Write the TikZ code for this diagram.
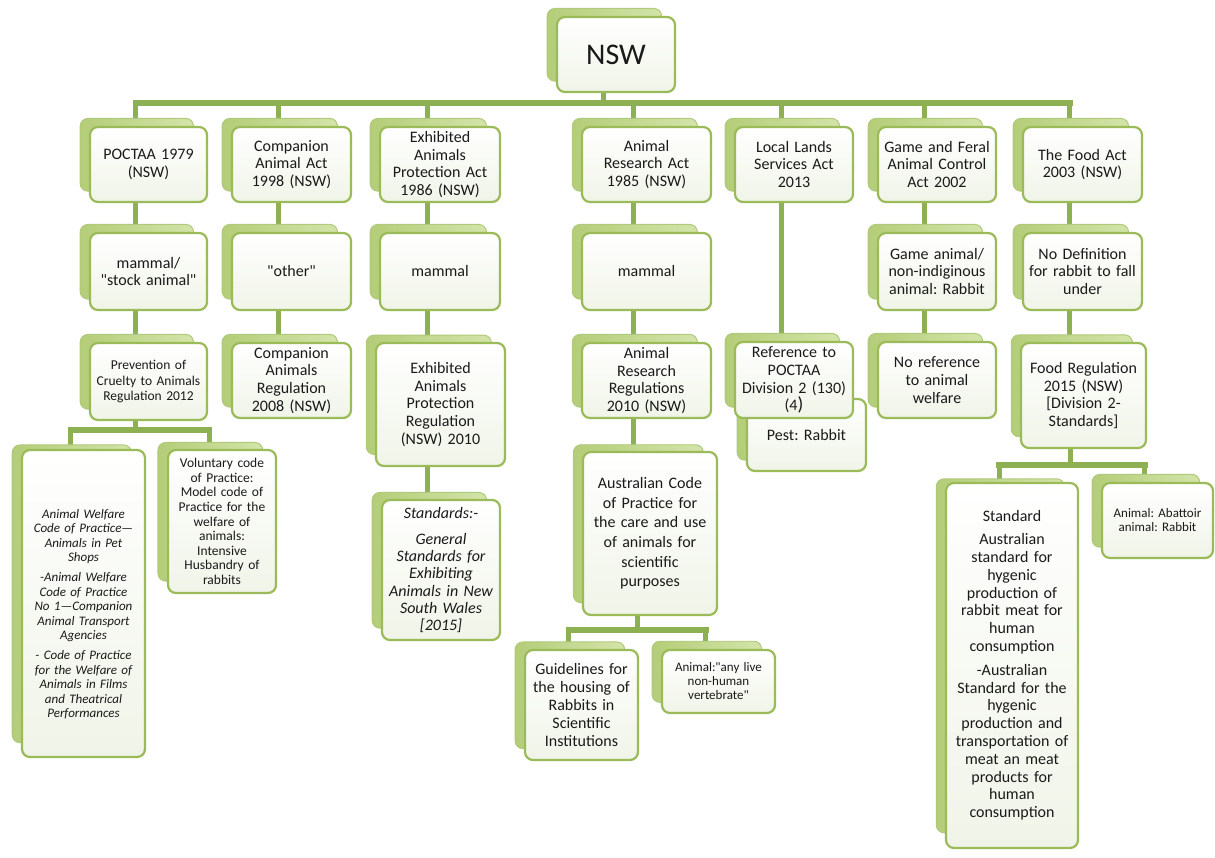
\documentclass[tikz,border=0pt]{standalone}
\usepackage{fontspec}
\setmainfont{Carlito}
\frenchspacing
\newcommand\qq{\XeTeXglyph\the\XeTeXcharglyph"22\relax}
\usetikzlibrary{shadows,backgrounds}
\definecolor{frontD}{HTML}{9BBB59}
\definecolor{backG}{HTML}{D3E4A9}
\definecolor{backL}{HTML}{B4CD78}
\definecolor{backD}{HTML}{B0C97A}
\definecolor{connG}{HTML}{8DB152}
\definecolor{frontB}{HTML}{F0F4E8}
\definecolor{txt}{HTML}{1A1A1A}
\tikzset{
  box/.style={draw=frontD, line width=2.2pt, rounded corners=8pt,
    top color=white, bottom color=frontB, inner sep=0pt, align=center,
    text=txt, font=\fontsize{16}{17.8}\selectfont,
    general shadow={shadow xshift=-12pt, shadow yshift=10pt, shadow scale=0.97,
      left color=backL, right color=backG, draw=backD, line width=1pt}},
  conn/.style={draw=connG, line width=5pt},
  barline/.style={draw=connG, line width=6pt, line cap=rect},
  fbig/.style={font=\fontsize{30}{32}\selectfont},
  fsmall/.style={font=\fontsize{13.5}{15.5}\selectfont},
  fvol/.style={font=\fontsize{13.5}{14.6}\selectfont},
  fawc/.style={font=\fontsize{13}{14.4}\selectfont\itshape},
  fstd/.style={font=\fontsize{16}{17.3}\selectfont\itshape},
  faus/.style={font=\fontsize{16}{19.6}\selectfont},
  ffood/.style={font=\fontsize{16}{17.8}\selectfont},
  ftiny/.style={font=\fontsize{13}{14}\selectfont},
}
\newcommand{\mkbox}[7][]{%
  \pgfmathsetmacro\bw{#5-#3}\pgfmathsetmacro\bh{#6-#4}%
  \pgfmathsetmacro\btw{#5-#3-8}%
  \pgfmathsetmacro\bcx{(#3+#5)/2}\pgfmathsetmacro\bcy{(#4+#6)/2}%
  \node[box,minimum width=\bw pt,minimum height=\bh pt,text width=\btw pt,#1] (#2) at (\bcx,\bcy) {#7};
  \coordinate (#2-t) at ([xshift=-13pt]#2.north);
  \coordinate (#2-b) at ([xshift=-13pt]#2.south);
}
\begin{document}
\begin{tikzpicture}[x=1pt,y=-1pt]
\useasboundingbox (0,0) rectangle (1215,858);
\begin{scope}[on background layer]
\fill[white] (0,0) rectangle (1215,858);
\end{scope}
% root
\mkbox[fbig]{nsw}{557}{17}{675}{92}{NSW}
% level 1
\mkbox{poctaa}{90}{127}{207}{202}{POCTAA 1979\\(NSW)}
\mkbox{comp}{232}{127}{351}{202}{Companion\\Animal Act\\1998 (NSW)}
\mkbox{exh}{380}{127}{500}{202}{Exhibited\\Animals\\Protection Act\\1986 (NSW)}
\mkbox{res}{582}{127}{711}{202}{Animal\\Research Act\\1985 (NSW)}
\mkbox{lls}{735}{127}{853}{202}{Local Lands\\Services Act\\2013}
\mkbox{game}{878}{127}{996}{202}{Game and Feral\\Animal Control\\Act 2002}
\mkbox{food}{1023}{127}{1142}{202}{The Food Act\\2003 (NSW)}
% level 2
\mkbox{mam1}{90}{233}{207}{310}{mammal/\\\qq stock animal\qq}
\mkbox{other}{232}{233}{351}{310}{\qq other\qq}
\mkbox{mam2}{380}{233}{500}{310}{mammal}
\mkbox{mam3}{582}{233}{711}{310}{mammal}
\mkbox{gamea}{878}{233}{996}{310}{Game animal/\\non-indiginous\\animal: Rabbit}
\mkbox{nodef}{1023}{233}{1142}{310}{No Definition\\for rabbit to fall\\under}
% level 3
\mkbox[fsmall]{prev}{90}{343}{207}{420}{Prevention of\\Cruelty to Animals\\Regulation 2012}
\mkbox{compreg}{232}{343}{351}{418}{Companion\\Animals\\Regulation\\2008 (NSW)}
\mkbox{exhreg}{376}{343}{505}{466}{Exhibited\\Animals\\Protection\\Regulation\\(NSW) 2010}
\mkbox{resreg}{582}{343}{711}{418}{Animal\\Research\\Regulations\\2010 (NSW)}
\mkbox{pest}{747}{399}{866}{471}{Pest: Rabbit}
\mkbox{ref}{735}{342}{853}{418}{Reference to\\POCTAA\\Division 2 (130)\\(4{\fontsize{19}{17}\selectfont)}}
\mkbox{noref}{878}{342}{996}{418}{No reference\\to animal\\welfare}
\mkbox{foodreg}{1021}{343}{1146}{448}{Food Regulation\\2015 (NSW)\\{[}Division 2-\\Standards{]}}
% level 4
\mkbox[fawc]{awc}{22}{450}{145}{757}{\mbox{}\\[16pt]Animal Welfare\\Code of Practice—\\Animals in Pet\\Shops\\[6pt]-Animal Welfare\\Code of Practice\\No 1—Companion\\Animal Transport\\Agencies\\[6pt]- Code of Practice\\for the Welfare of\\Animals in Films\\and Theatrical\\Performances}
\mkbox[fvol]{vol}{168}{450}{276}{593}{Voluntary code\\of Practice:\\Model code of\\Practice for the\\welfare of\\animals:\\Intensive\\Husbandry of\\rabbits}
\mkbox[fstd]{std}{382}{500}{500}{640}{Standards:-\\[9pt]General\\Standards for\\Exhibiting\\Animals in New\\South Wales\\{[}2015{]}}
\mkbox[faus]{aus}{583}{452}{717}{615}{Australian Code\\of Practice for\\the care and use\\of animals for\\scientific\\purposes}
\mkbox{guide}{525}{650}{638}{760}{Guidelines for\\the housing of\\Rabbits in\\Scientific\\Institutions}
\mkbox[ftiny]{anim}{662}{650}{775}{713}{Animal:\qq any live\\non-human\\vertebrate\qq}
\mkbox[ffood]{stdf}{946}{483}{1078}{848}{Standard\\[5pt]Australian\\standard for\\hygenic\\production of\\rabbit meat for\\human\\consumption\\[6pt]-Australian\\Standard for the\\hygenic\\production and\\transportation of\\meat an meat\\products for\\human\\consumption}
\mkbox[ftiny]{abat}{1102}{483}{1213}{558}{Animal: Abattoir\\animal: Rabbit}
% connectors
\begin{scope}[on background layer]
\coordinate (b0) at (0,103);
\coordinate (b1) at (0,430);
\coordinate (b2) at (0,630);
\coordinate (b3) at (0,465);
\draw[conn] (nsw-b) -- (nsw-b |- b0);
\foreach \c in {poctaa,comp,exh,res,lls,game,food}
  \draw[conn] (\c-t) -- (\c-t |- b0);
\draw[barline] (poctaa-t |- b0) -- (food-t |- b0);
\draw[conn] (poctaa-b) -- (mam1-t);
\draw[conn] (comp-b) -- (other-t);
\draw[conn] (exh-b) -- (mam2-t);
\draw[conn] (res-b) -- (mam3-t);
\draw[conn] (lls-b) -- (ref-t);
\draw[conn] (game-b) -- (gamea-t);
\draw[conn] (food-b) -- (nodef-t);
\draw[conn] (mam1-b) -- (prev-t);
\draw[conn] (other-b) -- (compreg-t);
\draw[conn] (mam2-b) -- (mam2-b |- exhreg-t);
\draw[conn] (mam3-b) -- (resreg-t);
\draw[conn] (gamea-b) -- (noref-t);
\draw[conn] (nodef-b) -- (nodef-b |- foodreg-t);
\draw[conn] (prev-b) -- (prev-b |- b1);
\draw[conn] (awc-t) -- (awc-t |- b1);
\draw[conn] (vol-t) -- (vol-t |- b1);
\draw[barline] (awc-t |- b1) -- (vol-t |- b1);
\draw[conn] (exhreg-b) -- (exhreg-b |- std-t);
\draw[conn] (resreg-b) -- (resreg-b |- aus-t);
\draw[conn] (aus-b) -- (aus-b |- b2);
\draw[conn] (guide-t) -- (guide-t |- b2);
\draw[conn] (anim-t) -- (anim-t |- b2);
\draw[barline] (guide-t |- b2) -- (anim-t |- b2);
\draw[conn] (foodreg-b) -- (foodreg-b |- b3);
\draw[conn] (stdf-t) -- (stdf-t |- b3);
\draw[conn] (abat-t) -- (abat-t |- b3);
\draw[barline] (stdf-t |- b3) -- (abat-t |- b3);
\end{scope}
\end{tikzpicture}
\end{document}
